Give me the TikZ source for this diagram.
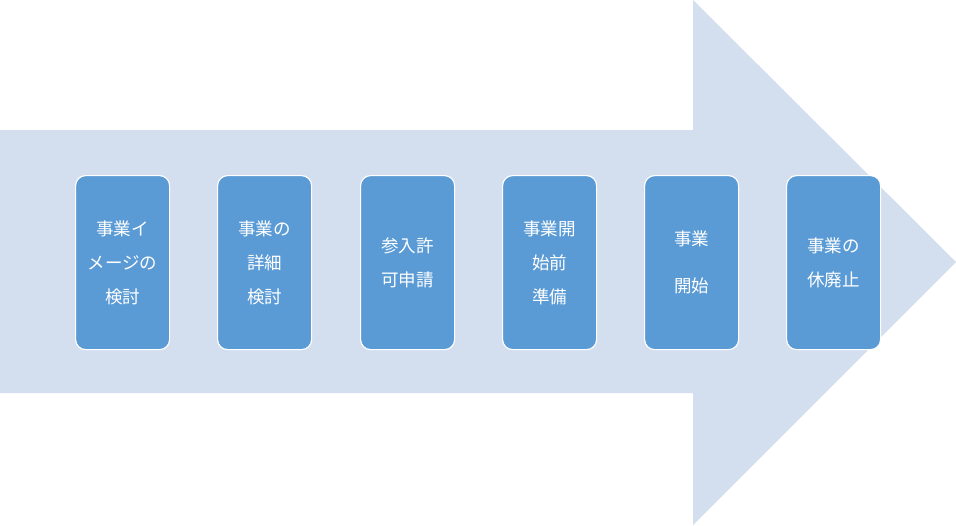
\documentclass[tikz,border=0pt]{standalone}
\usepackage{fontspec}
\newfontfamily\cjk{Noto Sans CJK JP}
\definecolor{arr}{HTML}{D3DEEF}
\definecolor{bx}{HTML}{5B9BD5}
\begin{document}
\begin{tikzpicture}[x=1pt,y=-1pt,
  stepbox/.style={draw=white,line width=1.2pt,fill=bx,rounded corners=10pt,minimum width=94pt,minimum height=174pt,anchor=north west,text=white,font=\cjk\fontsize{17.5}{34}\selectfont,align=center}]
\useasboundingbox (0,0) rectangle (956,525);
\fill[arr] (0,130) -- (693,130) -- (693,0) -- (956,262) -- (693,525) -- (693,393) -- (0,393) -- cycle;
\node[stepbox] (a) at (75,175) {事業イ\\メージの\\検討};
\node[stepbox] (b) at (217,175) {事業の\\詳細\\検討};
\node[stepbox] (c) at (360,175) {参入許\\可申請};
\node[stepbox] (d) at (502,175) {事業開\\始前\\準備};
\node[stepbox,font=\cjk\fontsize{17.5}{47}\selectfont] (e) at (644,175) {事業\\開始};
\node[stepbox] (f) at (786,175) {事業の\\休廃止};
\end{tikzpicture}
\end{document}
